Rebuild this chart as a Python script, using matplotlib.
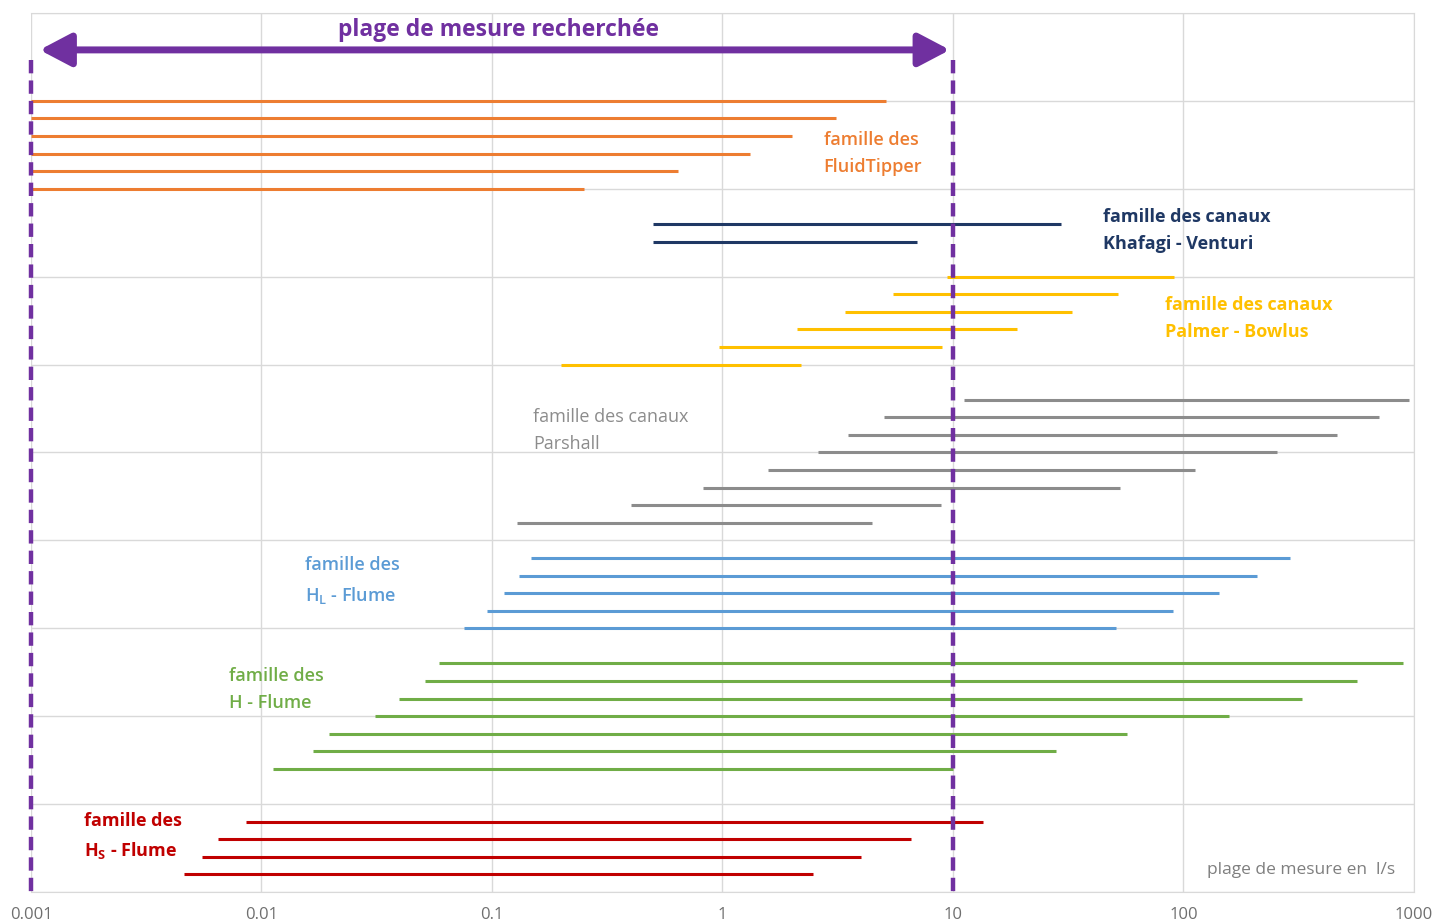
import matplotlib.pyplot as plt
from matplotlib.ticker import FixedLocator, NullLocator

plt.rcParams['font.family'] = ['Open Sans', 'DejaVu Sans']
plt.rcParams['mathtext.fontset'] = 'custom'
plt.rcParams['mathtext.rm'] = 'Open Sans'
plt.rcParams['mathtext.bf'] = 'Open Sans:bold'

# measuring ranges in l/s (min / max of each channel)
fluidtipper_min = [0.001, 0.001, 0.001, 0.001, 0.001, 0.001]
fluidtipper_max = [5.1, 3.1, 2.0, 1.32, 0.64, 0.25]
khafagi_min = [0.5, 0.5]
khafagi_max = [29.5, 7.0]
palmer_min = [9.4, 5.5, 3.4, 2.1, 0.97, 0.2]
palmer_max = [91, 52, 33, 19, 9.0, 2.2]
parshall_min = [11.2, 5.0, 3.5, 2.6, 1.57, 0.82, 0.4, 0.128]
parshall_max = [950, 705, 463, 254, 112, 53, 8.9, 4.45]
hl_min = [0.148, 0.131, 0.113, 0.095, 0.076]
hl_max = [290, 208, 143, 90, 51]
h_min = [0.059, 0.051, 0.0395, 0.031, 0.0196, 0.0167, 0.0112]
h_max = [896, 566, 327, 157, 57, 28, 10]
hs_min = [0.0086, 0.0065, 0.0055, 0.0046]
hs_max = [13.5, 6.6, 4.0, 2.47]

x_ticks = [0.001, 0.01, 0.1, 1, 10, 100, 1000]
x_tick_labels = ['0.001', '0.01', '0.1', '1', '10', '100', '1000']
target_range = [0.001, 10]

purple = '#7030A0'

# (mins, maxs, colour, first row, label, label x, label row, weight)
families = [
    (fluidtipper_min, fluidtipper_max, '#ED7D31', 5,
     'famille des\nFluidTipper', 2.75, 8.0, 'semibold'),
    (khafagi_min, khafagi_max, '#1F3864', 12,
     'famille des canaux\nKhafagi - Venturi', 44.8, 12.35, 'bold'),
    (palmer_min, palmer_max, '#FFC000', 15,
     'famille des canaux\nPalmer - Bowlus', 83, 17.4, 'bold'),
    (parshall_min, parshall_max, '#8C8C8C', 22,
     'famille des canaux\nParshall', 0.151, 23.75, 'normal'),
    (hl_min, hl_max, '#5B9BD5', 31,
     'famille des\nH$_\\mathregular{L}$ - Flume', 0.0154, 32.3, 'semibold'),
    (h_min, h_max, '#70AD47', 37,
     'famille des\nH - Flume', 0.0072, 38.5, 'semibold'),
    (hs_min, hs_max, '#C00000', 46,
     'famille des\nH$_\\mathbf{S}$ - Flume', 0.0017, 46.85, 'bold'),
]

fig = plt.figure(figsize=(14.33, 9.21), dpi=100)
ax = fig.add_axes([0.0216, 0.0315, 0.9651, 0.9544])
ax.set_xscale('log')
ax.set_xlim(0.001, 1000)
ax.set_ylim(50, 0)

for mins, maxs, color, start, label, lx, ly, weight in families:
    rows = [start + i for i in range(len(mins))]
    ax.hlines(rows, mins, maxs, colors=color, lw=2.2, zorder=3)
    ax.text(lx, ly, label, color=color, fontsize=13, fontweight=weight,
            ha='left', va='center', linespacing=1.65, zorder=4)

# target measuring range
for xv in target_range:
    ax.plot([xv, xv], [2.7, 50], color=purple, lw=3.2, ls=(0, (3, 1.6)),
            clip_on=False, zorder=5)
ax.annotate('', xy=(9.7, 2.1), xytext=(0.00109, 2.1),
            arrowprops=dict(arrowstyle='<|-|>,head_length=1.9,head_width=1.0',
                            lw=5, color=purple, shrinkA=0, shrinkB=0))
ax.text(0.107, 0.95, 'plage de mesure recherchée', color=purple, fontsize=16.5,
        fontweight='bold', ha='center', va='center')
ax.text(830, 48.75, 'plage de mesure en  l/s', color='#7F7F7F', fontsize=12.5,
        ha='right', va='center')

ax.xaxis.set_major_locator(FixedLocator(x_ticks))
ax.xaxis.set_minor_locator(NullLocator())
ax.set_xticklabels(x_tick_labels)
ax.set_yticks(range(0, 51, 5))
ax.set_yticklabels([])
ax.tick_params(length=0, labelsize=12, labelcolor='#6F6F6F', pad=11)
ax.grid(color='#D9D9D9', lw=1)
for side in ['top', 'right', 'bottom']:
    ax.spines[side].set_color('#D9D9D9')
ax.spines['left'].set_visible(False)

plt.savefig('out.png', dpi=100)
